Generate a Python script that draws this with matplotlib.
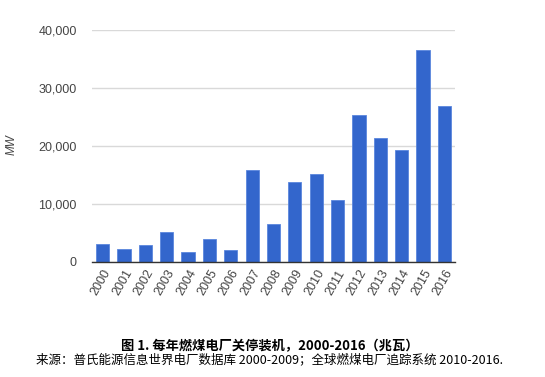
import matplotlib
matplotlib.use('Agg')
import matplotlib.pyplot as plt
from matplotlib.ticker import FuncFormatter

# 每年关停装机 (MW)
years = ['2000', '2001', '2002', '2003', '2004', '2005', '2006', '2007', '2008',
         '2009', '2010', '2011', '2012', '2013', '2014', '2015', '2016']
mw = [3040, 2180, 2870, 5160, 1780, 3900, 2010, 15840, 6540,
      13720, 15150, 10620, 25310, 21290, 19230, 36560, 26920]

yticks = [0, 10000, 20000, 30000, 40000]
title = '图 1. 每年燃煤电厂关停装机，2000-2016（兆瓦）'
source = '来源：普氏能源信息世界电厂数据库 2000-2009；全球燃煤电厂追踪系统 2010-2016.'

plt.rcParams['font.family'] = ['Liberation Sans', 'DejaVu Sans']
cjk = ['Noto Sans CJK SC', 'DejaVu Sans']

fig = plt.figure(figsize=(5.45, 3.77), dpi=100)
ax = fig.add_axes([92 / 545, 1 - 262 / 377, (455 - 92) / 545, (262 - 29.7) / 377])

x = range(len(years))
ax.bar(x, mw, width=0.62, color='#3366cc', edgecolor='#5a86dd', linewidth=0.6, zorder=3)

ax.set_xlim(-0.5, len(years) - 0.5)
ax.set_ylim(0, 40000)
ax.set_yticks(yticks)
ax.yaxis.set_major_formatter(FuncFormatter(lambda v, p: f'{int(v):,}'))
ax.grid(axis='y', color='#d9d9d9', linewidth=1, zorder=0)
ax.set_xticks(list(x))
ax.set_xticklabels(years, rotation=60, ha='right', rotation_mode='anchor')
ax.tick_params(axis='both', length=0, labelsize=9, labelcolor='#444444')
ax.tick_params(axis='y', pad=11)
ax.tick_params(axis='x', pad=4)
for s in ['top', 'right', 'left']:
    ax.spines[s].set_visible(False)
ax.spines['bottom'].set_color('#333333')
ax.spines['bottom'].set_linewidth(1)
ax.spines['bottom'].set_zorder(4)

fig.text(12 / 545, 1 - 145 / 377, 'MW', fontsize=8.5, style='italic', color='#444444',
         rotation=90, ha='center', va='center')

fig.text(270 / 545, 1 - 346 / 377, title, family=cjk, fontsize=9.5, fontweight='bold',
         ha='center', va='center', color='black')
fig.text(36 / 545, 1 - 360 / 377, source, family=cjk, fontsize=9,
         ha='left', va='center', color='black')

fig.savefig('out.png', dpi=100, facecolor='white')
